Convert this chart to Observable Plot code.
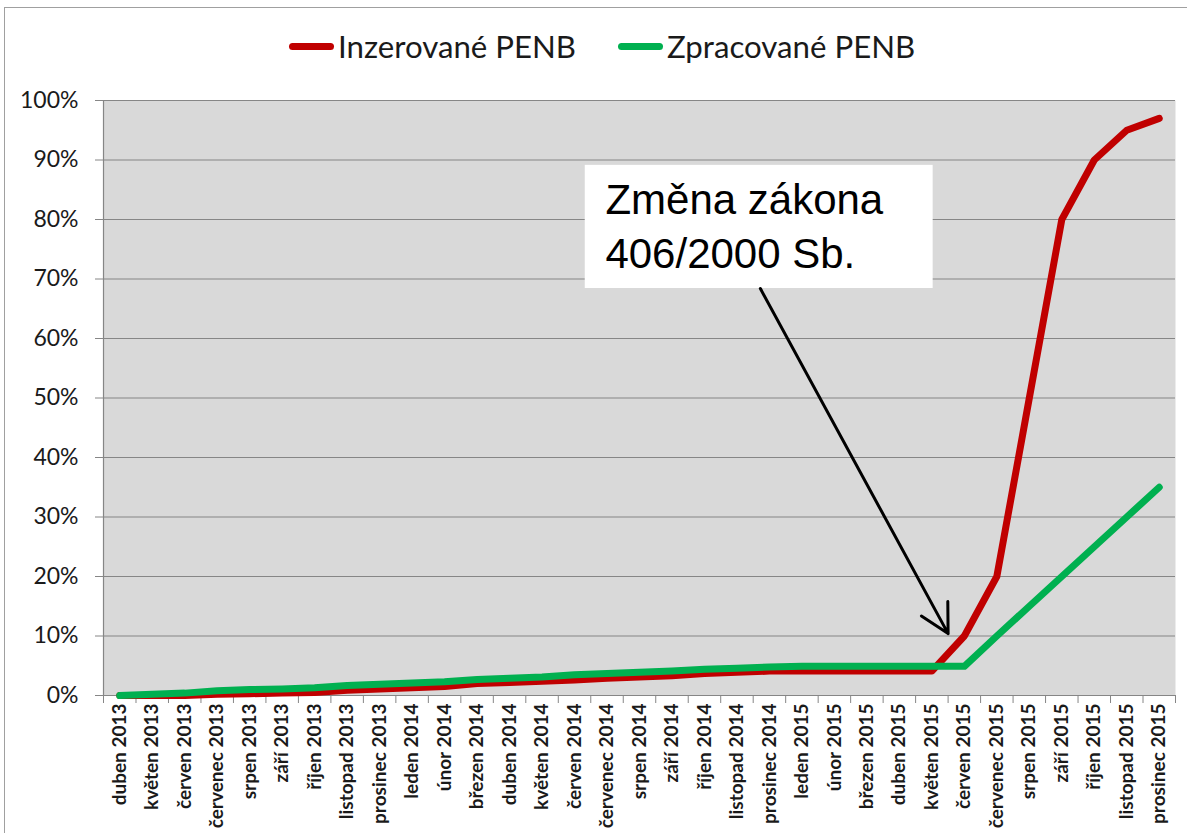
<!DOCTYPE html>
<html>
<head>
<meta charset="utf-8">
<script src="https://cdn.jsdelivr.net/npm/d3@7"></script>
<script src="https://cdn.jsdelivr.net/npm/@observablehq/plot@0.6"></script>
<style>
  html, body { margin: 0; padding: 0; background: #fff; }
  #wrap { position: relative; width: 1187px; height: 833px; overflow: hidden; }
  #frame { position: absolute; left: 4px; top: 7px; right: -10px; bottom: -10px; border-top: 1px solid #a0a0a0; border-left: 1px solid #a0a0a0; }
  #legend { position: absolute; left: 0; top: 0; width: 1187px; height: 80px; font-family: Lato, "Open Sans", sans-serif; font-size: 30px; color: #1a1a1a; }
  .item { position: absolute; top: 28px; display: flex; align-items: center; height: 36px; }
  .sw { width: 45px; height: 7px; border-radius: 3.5px; margin-right: 4px; }
  .tx { display: inline-block; transform-origin: left center; transform: scaleX(1.04); }
  #chart { position: absolute; left: 0; top: 80px; }
</style>
</head>
<body>
<div id="wrap">
  <div id="frame"></div>
  <div id="legend"></div>
  <div id="chart"></div>
</div>
<script>
const months = ["duben 2013","květen 2013","červen 2013","červenec 2013","srpen 2013","září 2013","říjen 2013","listopad 2013","prosinec 2013","leden 2014","únor 2014","březen 2014","duben 2014","květen 2014","červen 2014","červenec 2014","srpen 2014","září 2014","říjen 2014","listopad 2014","prosinec 2014","leden 2015","únor 2015","březen 2015","duben 2015","květen 2015","červen 2015","červenec 2015","srpen 2015","září 2015","říjen 2015","listopad 2015","prosinec 2015"];
const inzerovane = [0, 0, 0, 0.2, 0.3, 0.4, 0.5, 0.9, 1.1, 1.3, 1.5, 2.0, 2.2, 2.4, 2.6, 2.9, 3.1, 3.3, 3.7, 3.9, 4.1, 4.1, 4.1, 4.1, 4.1, 4.1, 10, 20, 50, 80, 90, 95, 97];
const zpracovane = [0, 0.2, 0.4, 0.8, 1.0, 1.1, 1.3, 1.7, 1.9, 2.1, 2.3, 2.7, 2.9, 3.1, 3.5, 3.7, 3.9, 4.1, 4.4, 4.6, 4.8, 4.9, 4.9, 4.9, 4.9, 4.9, 4.9, 10, 15, 20, 25, 30, 35];
const seriesNames = ["Inzerované PENB", "Zpracované PENB"];
const seriesColors = ["#C00000", "#00B050"];
const yTicks = [0, 0.1, 0.2, 0.3, 0.4, 0.5, 0.6, 0.7, 0.8, 0.9, 1.0];
const annotationLines = ["Změna zákona", "406/2000 Sb."];

// legend
const legend = document.getElementById("legend");
const legendLeft = [289, 618];
seriesNames.forEach((name, k) => {
  const it = document.createElement("div");
  it.className = "item";
  it.style.left = legendLeft[k] + "px";
  const sw = document.createElement("span");
  sw.className = "sw";
  sw.style.background = seriesColors[k];
  const tx = document.createElement("span");
  tx.className = "tx";
  tx.textContent = name;
  it.appendChild(sw); it.appendChild(tx);
  legend.appendChild(it);
});

const idx = d3.range(months.length);
const boundaries = d3.range(months.length + 1).map(i => i - 0.5);
const gray = "#868686";

const chart = Plot.plot({
  width: 1187,
  height: 753,
  marginLeft: 103,
  marginRight: 12,
  marginTop: 20,
  marginBottom: 138,
  style: { fontFamily: "Lato, 'Open Sans', sans-serif", background: "transparent", color: "#1a1a1a" },
  x: { domain: [-0.5, months.length - 0.5] },
  y: { domain: [0, 1] },
  marks: [
    Plot.frame({ fill: "#d9d9d9", stroke: null }),
    Plot.gridY(yTicks, { stroke: gray, strokeOpacity: 1, strokeWidth: 1.2 }),
    Plot.ruleX([-0.5], { stroke: gray, strokeWidth: 1.2 }),
    Plot.ruleY([0], { stroke: gray, strokeWidth: 1.2 }),
    Plot.axisY(yTicks, { tickSize: 8, stroke: gray, tickFormat: d => Math.round(d * 100) + "%", fontSize: 23, tickPadding: 17, fill: "#1a1a1a" }),
    Plot.axisX(boundaries, { tickSize: 8, stroke: gray, tickFormat: () => "" }),
    Plot.axisX(idx, { tickSize: 0, tickFormat: i => months[i], tickRotate: -90, fontSize: 19, fontWeight: "bold", tickPadding: 8, fill: "#1a1a1a" }),
    Plot.line(idx, { x: i => i, y: i => inzerovane[i] / 100, stroke: seriesColors[0], strokeWidth: 7, strokeLinejoin: "round", strokeLinecap: "round" }),
    Plot.line(idx, { x: i => i, y: i => zpracovane[i] / 100, stroke: seriesColors[1], strokeWidth: 7, strokeLinejoin: "round", strokeLinecap: "round" }),
    Plot.rect([0], { x1: 14.33, x2: 25.04, y1: 0.684, y2: 0.891, fill: "white" }),
    Plot.text([annotationLines.join("\n")], { x: 14.95, y: 0.719, text: d => d, textAnchor: "start", lineAnchor: "bottom", lineHeight: 1.29, fontSize: 42, fontFamily: "'Liberation Sans', Arial, sans-serif", fill: "#000" }),
    Plot.arrow([0], { x1: 19.72, y1: 0.684, x2: 25.5, y2: 0.104, stroke: "#000", strokeWidth: 3, headLength: 16, headAngle: 56, bend: 0, strokeLinecap: "round" })
  ]
});
document.getElementById("chart").appendChild(chart);
</script>
</body>
</html>
